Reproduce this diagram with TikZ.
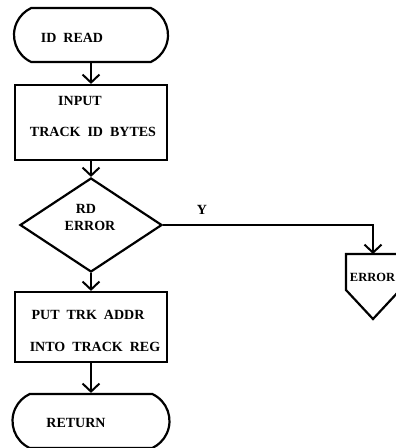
\documentclass[tikz,border=0pt]{standalone}
\usepackage{fontspec}
\setmainfont{Liberation Serif}
\usetikzlibrary{shapes.geometric,shapes.misc,arrows.meta}
\tikzset{
  x=1pt, y=-1pt,
  outline/.style={draw=black, line width=2.2pt, inner sep=0pt},
  termbox/.style={outline, rounded rectangle, rounded rectangle arc length=130, minimum width=154pt, minimum height=54pt},
  procbox/.style={outline, rectangle, minimum width=152pt},
  decbox/.style={outline, diamond, minimum width=142pt, minimum height=94pt},
  txt/.style={font=\bfseries\fontsize{14}{16}\selectfont, inner sep=0pt, text=black},
  flow/.style={line width=2pt, -{Straight Barb[length=8pt,width=17pt,line width=2pt]}}
}
\begin{document}
\begin{tikzpicture}
\useasboundingbox (0,0) rectangle (396,448);
\clip (0,0) rectangle (396,448);
\fill[white] (0,0) rectangle (396,448);
% nodes
\node[termbox] (t1) at (91,35) {};
\node[txt] (t1t) at (72,38) {ID\ \ READ};
\node[procbox, minimum height=75pt] (b1) at (91,122.5) {};
\node[txt] (b1a) at (80,101) {INPUT};
\node[txt] (b1b) at (93,132) {TRACK\ \ ID\ \ BYTES};
\node[decbox] (d1) at (91,225) {};
\node[txt] (d1a) at (86,209) {RD};
\node[txt] (d1b) at (90,226) {ERROR};
\node[procbox, minimum height=70pt] (b2) at (91,327) {};
\node[txt] (b2a) at (88,315) {PUT\ \ TRK\ \ ADDR};
\node[txt] (b2b) at (95,347) {INTO\ \ TRACK\ \ REG};
\node[termbox, minimum width=157pt] (t2) at (91,421) {};
\node[txt] (t2t) at (76,423) {RETURN};
% off-page connector
\coordinate (err) at (373,254);
\draw[line width=2.2pt, line join=miter] ([xshift=-27pt]err) -- ([xshift=27pt]err) -- ++(0,36) -- (373,319) -- (346,290) -- cycle;
\node[txt, font=\bfseries\fontsize{12.5}{15}\selectfont] (errt) at (372.5,277) {ERROR};
\node[txt] (ylab) at (202,210) {Y};
% connectors
\draw[flow] (t1.south) -- (b1.north);
\draw[flow] (b1.south) -- (d1.north);
\draw[flow] (d1.south) -- (b2.north);
\draw[flow] (b2.south) -- (t2.north);
\draw[flow] (d1.east) -| (err);
\end{tikzpicture}
\end{document}
